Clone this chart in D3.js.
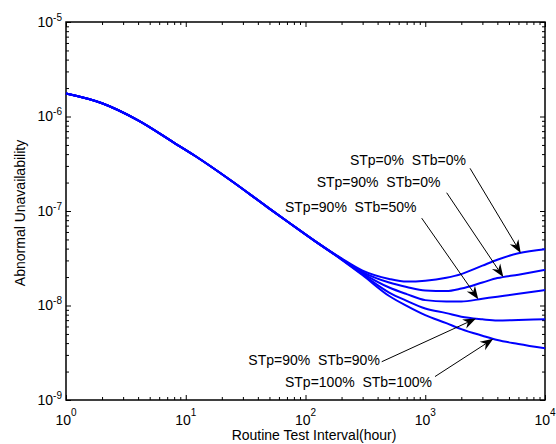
<!DOCTYPE html>
<html>
<head>
<meta charset="utf-8">
<script src="https://cdn.jsdelivr.net/npm/d3@7"></script>
<style>
  body { margin: 0; background: #fff; }
  svg { display: block; font-family: "Liberation Sans", Arial, sans-serif; }
</style>
</head>
<body>
<svg width="556" height="444"></svg>
<script>
// routine test interval (hours)
const hours = [1, 2, 4, 8, 12, 24, 48, 72, 120, 200, 300, 500, 700, 1000, 1500, 2000, 3000, 4000, 6000, 10000];

// all five cases are on top of each other up to ~120 h
const shared = [1.75e-6, 1.38e-6, 9.1e-7, 5.27e-7, 3.82e-7, 2.09e-7, 1.1e-7, 7.6e-8, 4.8e-8];

const stp0stb0 = [...shared, 3.15e-8, 2.34e-8, 1.91e-8, 1.79e-8, 1.83e-8, 1.97e-8, 2.15e-8, 2.64e-8, 3.05e-8, 3.57e-8, 3.94e-8];
const stp90stb0 = [...shared, 3.12e-8, 2.26e-8, 1.75e-8, 1.57e-8, 1.44e-8, 1.42e-8, 1.51e-8, 1.75e-8, 1.95e-8, 2.12e-8, 2.38e-8];
const stp90stb50 = [...shared, 3.1e-8, 2.19e-8, 1.55e-8, 1.32e-8, 1.14e-8, 1.10e-8, 1.10e-8, 1.18e-8, 1.24e-8, 1.33e-8, 1.46e-8];
const stp90stb90 = [...shared, 3.08e-8, 2.13e-8, 1.37e-8, 1.12e-8, 9.3e-9, 8.3e-9, 7.6e-9, 7.15e-9, 6.95e-9, 7.03e-9, 7.14e-9];
const stp100stb100 = [...shared, 3.06e-8, 2.09e-8, 1.26e-8, 9.9e-9, 7.9e-9, 6.5e-9, 5.63e-9, 4.79e-9, 4.31e-9, 3.92e-9, 3.52e-9];

const series = [stp0stb0, stp90stb0, stp90stb50, stp90stb90, stp100stb100];

const labels = ["STp=0%  STb=0%", "STp=90%  STb=0%", "STp=90%  STb=50%", "STp=90%  STb=90%", "STp=100%  STb=100%"];
// where each label sits, where its arrow starts, and the hour the arrow points at (data units)
const labelAt = [[235, 3.07e-7], [124, 1.81e-7], [67.4, 9.7e-8], [33.3, 2.34e-9], [67.4, 1.36e-9]];
const arrowFrom = [[2365, 2.83e-7], [1510, 1.56e-7], [934, 8.4e-8], [433, 2.54e-9], [1206, 1.77e-9]];
const arrowToHour = [6270, 4486, 2773, 2654, 3700];

const xMajor = [1, 10, 100, 1000, 10000];
const yMajor = [1e-9, 1e-8, 1e-7, 1e-6, 1e-5];

const margin = { top: 22, right: 11, bottom: 44, left: 66 };
const svg = d3.select("svg");
const width = +svg.attr("width") - margin.left - margin.right;
const height = +svg.attr("height") - margin.top - margin.bottom;

const x = d3.scaleLog().domain([1, 1e4]).range([0, width]);
const y = d3.scaleLog().domain([1e-9, 1e-5]).range([height, 0]);

const g = svg.append("g").attr("transform", `translate(${margin.left},${margin.top})`);

// minor ticks 2..9 per decade
const minorOf = (majors) =>
  majors.slice(0, -1).flatMap((m) => d3.range(2, 10).map((k) => m * k));

const drawTicks = (axis, scale, majors, transform) => {
  const a = g.append("g").attr("transform", transform);
  a.call(axis(scale).tickValues(majors).tickSize(-5).tickFormat(""));
  a.append("g").call(axis(scale).tickValues(minorOf(majors)).tickSize(-3).tickFormat(""));
  a.selectAll(".domain").remove();
  a.selectAll("line").attr("stroke", "#000").attr("stroke-width", 1);
};

drawTicks(d3.axisBottom, x, xMajor, `translate(0,${height})`);
drawTicks(d3.axisTop, x, xMajor, "translate(0,0)");
drawTicks(d3.axisLeft, y, yMajor, "translate(0,0)");
drawTicks(d3.axisRight, y, yMajor, `translate(${width},0)`);

g.append("rect")
  .attr("width", width)
  .attr("height", height)
  .attr("fill", "none")
  .attr("stroke", "#000")
  .attr("stroke-width", 1.5);

// tick labels 10^n
g.append("g")
  .selectAll("text")
  .data(xMajor)
  .join("text")
  .attr("x", (d) => x(d))
  .attr("y", height + 25)
  .attr("text-anchor", "middle")
  .attr("font-size", 14)
  .call((t) => t.append("tspan").text("10"))
  .call((t) =>
    t.append("tspan").attr("dy", -9).attr("font-size", 10).text((d) => Math.round(Math.log10(d)))
  );

g.append("g")
  .selectAll("text")
  .data(yMajor)
  .join("text")
  .attr("x", -4)
  .attr("y", (d) => y(d) + 4.5)
  .attr("text-anchor", "end")
  .attr("font-size", 14)
  .call((t) => t.append("tspan").text("10"))
  .call((t) =>
    t.append("tspan").attr("dy", -6).attr("font-size", 10).text((d) => "-" + Math.round(-Math.log10(d)))
  );

svg.append("text")
  .attr("x", 314)
  .attr("y", 440)
  .attr("text-anchor", "middle")
  .attr("font-size", 14)
  .text("Routine Test Interval(hour)");

svg.append("text")
  .attr("transform", `translate(25,${margin.top + height / 2 + 2}) rotate(-90)`)
  .attr("text-anchor", "middle")
  .attr("font-size", 14)
  .text("Abnormal Unavailability");

// curves
const line = d3
  .line()
  .curve(d3.curveMonotoneX)
  .x((d, i) => x(hours[i]))
  .y((d) => y(d));

g.append("g")
  .attr("fill", "none")
  .attr("stroke", "#0000ff")
  .attr("stroke-width", 2)
  .selectAll("path")
  .data(series)
  .join("path")
  .attr("d", line);

// value of a series at an hour, interpolated in log-log space
const valueAt = (s, h) => {
  const i = Math.min(d3.bisectRight(hours, h), hours.length - 1);
  const t = (Math.log(h) - Math.log(hours[i - 1])) / (Math.log(hours[i]) - Math.log(hours[i - 1]));
  return Math.exp(Math.log(s[i - 1]) + t * (Math.log(s[i]) - Math.log(s[i - 1])));
};

// annotations with arrows
const notes = labels.map((label, i) => ({
  label,
  text: labelAt[i],
  from: arrowFrom[i],
  to: [arrowToHour[i], valueAt(series[i], arrowToHour[i])]
}));

const ann = g.append("g").selectAll("g").data(notes).join("g");

ann
  .append("text")
  .attr("x", (d) => x(d.text[0]))
  .attr("y", (d) => y(d.text[1]))
  .attr("font-size", 14)
  .style("white-space", "pre")
  .text((d) => d.label);

ann.each(function (d) {
  const x0 = x(d.from[0]), y0 = y(d.from[1]);
  const x1 = x(d.to[0]), y1 = y(d.to[1]);
  const ang = Math.atan2(y1 - y0, x1 - x0);
  const len = 13, half = 5, notch = 9;
  const pt = (l, w) => [
    x1 - l * Math.cos(ang) - w * Math.sin(ang),
    y1 - l * Math.sin(ang) + w * Math.cos(ang)
  ];
  const sel = d3.select(this);
  const back = pt(notch, 0);
  sel.append("line")
    .attr("x1", x0).attr("y1", y0)
    .attr("x2", back[0]).attr("y2", back[1])
    .attr("stroke", "#000")
    .attr("stroke-width", 1);
  sel.append("path")
    .attr("d", "M" + [[x1, y1], pt(len, half), back, pt(len, -half)].map((p) => p.join(",")).join("L") + "Z")
    .attr("fill", "#000");
});
</script>
</body>
</html>
